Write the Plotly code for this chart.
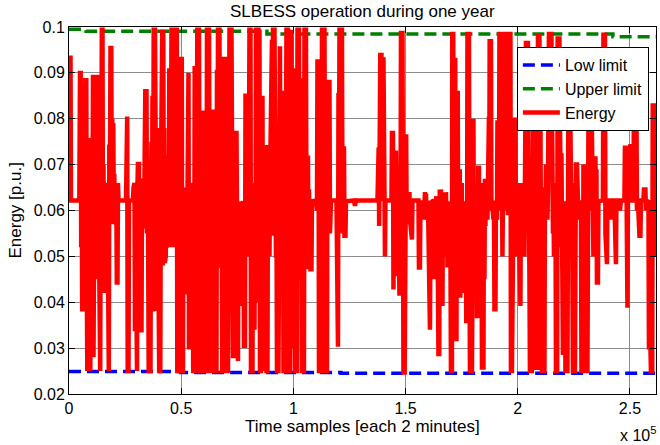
import plotly.graph_objects as go

# ---------------- data ----------------
x_tick_vals = [0, 50000, 100000, 150000, 200000, 250000]
x_tick_text = ["0", "0.5", "1", "1.5", "2", "2.5"]
y_tick_vals = [0.02, 0.03, 0.04, 0.05, 0.06, 0.07, 0.08, 0.09, 0.1]
y_tick_text = ["0.02", "0.03", "0.04", "0.05", "0.06", "0.07", "0.08", "0.09", "0.1"]

low_limit_x = [0, 49900, 121200, 261600]
low_limit = [0.0249, 0.0247, 0.0245, 0.0245]

upper_limit_x = [0, 7600, 88200, 242400, 261600]
upper_limit = [0.0995, 0.0991, 0.0985, 0.0979, 0.0979]

energy_x = [
    0, 668, 891, 4590, 4902, 5214, 5436, 5659, 5882, 6105, 6328, 6550, 6773, 6996, 7263, 7486, 7709, 7932,
    8154, 8377, 8600, 8823, 9046, 9268, 9491, 9714, 10026, 10382, 10694, 10917, 11140, 11363, 11586, 11808,
    12031, 12254, 12477, 12700, 12922, 13145, 13457, 13903, 14126, 14393, 14616, 14928, 15150, 15373, 15596,
    15819, 16042, 16264, 16576, 16844, 17066, 17289, 17735, 17958, 18180, 18492, 18849, 19072, 19294, 19517,
    19740, 19963, 20186, 20408, 20631, 20854, 21077, 21300, 21612, 21834, 22057, 25399, 25622, 25934, 26157,
    26513, 26736, 28518, 28741, 28964, 29187, 29410, 29632, 29855, 30301, 30524, 30746, 30969, 31192, 31415,
    31638, 31860, 32083, 32306, 32529, 32974,
    33197, 33420, 33643, 33999, 34534, 34757, 34980, 35202, 35514, 36316, 36539, 36762, 36985, 37208, 37430,
    37742, 38322, 38544, 38767, 38990, 39213, 39436, 39658, 39881, 40193, 40683, 40906, 41129, 41575, 41797,
    42020, 42243, 42466, 42688, 42911, 43134, 43357, 43580, 43802, 44025, 44248, 44471, 44694, 44916, 45139,
    45362, 45674, 46120, 46342, 46565, 46788, 47011, 47234, 47456, 47768, 48036, 48258, 48793, 49016, 49239,
    49595, 49818, 50264, 50486, 50798, 51021, 51244, 51467, 51690, 51912, 52135, 52358, 52581, 52804, 53249,
    53472, 53695, 53918, 54140, 54363, 54586, 54809, 55032, 55344, 55789, 56012, 56458, 56680, 56903, 57170,
    57928, 58151, 58374, 59265, 59488, 59800, 60156, 60379, 60602, 61270, 61493, 62384, 62607, 62919, 63721,
    63944, 64300,
    64612, 64835, 65058, 65280, 65726, 65949, 66172, 66394, 67063, 67286, 67508, 67731, 67954, 68310, 68845,
    69068, 69959, 70182, 70405, 70850, 71073, 71296, 71519, 72410, 72633, 72856, 73078, 73524, 73747, 74192,
    74638, 74861, 75306, 75529, 75752, 75975, 76198, 76420, 76643, 76866, 77089, 77312, 77534, 77757, 77980,
    78426, 78648, 79317, 79540, 79762, 79985, 80431, 80876, 81099, 81768, 81990, 82213, 82436, 82659, 82882,
    83104, 83327, 84441, 84664, 84887, 85110, 85555, 85778, 86224, 86446, 86892, 87115, 87338, 87560, 87783,
    88006, 88452, 88674, 88897, 89120, 89343, 89566, 90011, 90457, 90680, 90902, 91571, 91794, 92016, 92239,
    92462, 92685, 93353, 93576, 94022, 94244, 94467, 94690, 94913, 95358, 95581, 96250, 96472, 96695, 96918,
    97586,
    97809, 98478, 98700, 99146, 99369, 99592, 99814, 100037, 100260, 100483, 100706, 101597, 101820, 102488,
    102711, 102934, 103156, 103379, 103602, 103825, 104716, 104939, 105607, 105830, 106053, 106276, 106498,
    106721, 106944, 107167, 107390, 107612, 108058, 108281, 110063, 110286, 110509, 110732, 111177, 111400,
    112514, 112737, 113851, 114074, 114296, 114965, 115188, 116079, 116302, 116524, 116747, 119198, 119421,
    119866, 120089, 120312, 120535, 121649, 121872, 122094, 122540, 122763, 123208, 123431, 126996, 127442,
    127887,
    137468, 137690, 138002, 138225, 138448, 138715, 139250, 139473, 139696, 140141, 140364, 140810, 141032,
    143706, 143929, 144374, 144597, 144820, 145043, 145266, 145711, 145934, 146157, 146380, 146602, 146825,
    147271, 147494, 147716, 147939, 148608, 148830, 149053, 149588, 149811, 150256, 150479, 150702, 150925,
    151192, 151504, 151727, 151950, 152395, 152841, 153064, 155737, 155960, 156406, 156628, 157297, 157742,
    158188, 158634, 158856, 159079, 159302, 159748, 159970, 160416, 160862, 161084, 161307, 161753, 161976,
    162644, 163090, 163312, 163535,
    163758, 164204, 164649, 165006, 165228, 165540, 165763, 165986, 166209, 166432, 166654, 166877, 167100,
    167323, 167546, 167768, 167991, 168214, 168437, 168660, 168882, 169105, 169328, 169551, 169774, 169996,
    170219, 170665, 170798, 171244, 171467, 171690, 172135, 172358, 172670, 172893, 173249, 173472, 173695,
    173918, 174140, 174363, 174586, 174809, 175032, 175254, 175477, 175700, 175923, 176146, 176368, 176591,
    176814, 177037, 177349, 177572, 178240, 178463, 178686, 179577, 179800, 180245, 180468, 180691, 180914,
    181136, 181359, 181582, 181805, 182161, 182384, 182696, 182919, 183275, 183587, 183810, 184033, 184701,
    184924, 185147, 185370, 185592, 185815, 186038, 186261, 186484, 186706, 187152, 187286, 187464, 188043,
    188266, 188489, 189157, 189380, 189603, 190048, 190271, 190717, 190940, 191385, 191608, 191831, 192499,
    192722, 193168, 193390, 193613, 194504, 194727, 194950, 195173, 195396, 195618, 195841, 196064, 196287,
    196732, 196955, 197401,
    198069, 198292, 198515, 198960, 199183, 199406, 199629, 199852, 200074, 200297, 200520, 200743, 201188,
    201411, 201634, 201857, 202080, 202302, 202525, 202748, 202971, 203194, 203639, 204530, 204753, 204976,
    205199, 205422, 206313, 206536, 206758, 206981, 207650, 207872, 208095, 208318, 208764, 208986, 209655,
    209878, 210100, 210323, 210546, 210769, 211883, 212106, 212328, 212551, 212774, 212997, 213220, 213442,
    213888, 215002, 215225, 215448, 215670, 215893, 216116, 216339, 216562, 216784, 217007, 217542, 217765,
    218567, 218790, 219012, 219235, 219458, 219681, 219904, 220126, 220795, 221018, 221240, 222132, 222354,
    222577, 223246, 223468, 223691, 223914, 224137, 224582, 225474, 225696, 225919, 226142, 226365, 226588,
    226810, 227033, 227256, 227702, 228147, 228370, 229038, 229261, 229484,
    229707, 230152, 230375, 231044, 231266, 231489, 232158, 232380, 232603, 233049, 233272, 233494, 233717,
    233940, 234163, 234608, 234831, 235054, 235277, 235722, 235945, 237950, 238173, 238842, 239064, 239287,
    239733, 239956, 241070, 241515, 241961, 243075, 243298, 243743, 243966, 245080, 245526, 245971, 247531,
    247754, 248333, 248556, 248868, 249090, 249982, 250204, 250650, 250873, 251541, 251764, 252878, 253101,
    253546, 254215, 254660, 254883, 255997, 256220, 256888, 257111, 257557, 258225, 258448, 259116, 259339,
    259918, 260141, 260676, 260899, 261122, 261344, 261567,
]

energy = [
    0.0933, 0.0933, 0.0622, 0.0622, 0.0900, 0.0900, 0.052, 0.067, 0.038, 0.064, 0.046, 0.066, 0.038, 0.062,
    0.0889, 0.050, 0.0889, 0.045, 0.025, 0.066, 0.025, 0.0758, 0.040, 0.066, 0.025, 0.060, 0.066, 0.050,
    0.0896, 0.028, 0.0896, 0.055, 0.0896, 0.045, 0.066, 0.0896, 0.050, 0.0896, 0.045, 0.065, 0.025, 0.025,
    0.064, 0.055, 0.0994, 0.0994, 0.050, 0.070, 0.042, 0.066, 0.042, 0.062, 0.065, 0.048, 0.066, 0.025,
    0.025, 0.0744, 0.060, 0.0954, 0.0954, 0.058, 0.080, 0.057, 0.079, 0.060, 0.068, 0.058, 0.066, 0.057,
    0.066, 0.0443, 0.0443, 0.066, 0.0622, 0.0622, 0.0805, 0.0805, 0.025, 0.025, 0.0622, 0.0622, 0.065,
    0.034, 0.066, 0.0337, 0.065, 0.025, 0.025, 0.066, 0.0706, 0.034, 0.0706, 0.0337, 0.067, 0.034, 0.067,
    0.0334, 0.062, 0.0622,
    0.065, 0.056, 0.066, 0.086, 0.086, 0.055, 0.085, 0.060, 0.025, 0.025, 0.066, 0.075, 0.055, 0.085,
    0.038, 0.0994, 0.0994, 0.060, 0.0994, 0.045, 0.078, 0.0381, 0.070, 0.045, 0.025, 0.025, 0.065, 0.0994,
    0.0994, 0.048, 0.0994, 0.055, 0.078, 0.0486, 0.070, 0.050, 0.072, 0.052, 0.072, 0.053, 0.070, 0.052,
    0.091, 0.055, 0.091, 0.060, 0.0994, 0.0994, 0.052, 0.0994, 0.060, 0.085, 0.052, 0.070, 0.0994, 0.0994,
    0.025, 0.025, 0.060, 0.025, 0.025, 0.093, 0.093, 0.025, 0.025, 0.065, 0.0417, 0.064, 0.045, 0.065,
    0.0417, 0.063, 0.050, 0.090, 0.090, 0.0297, 0.065, 0.030, 0.062, 0.0297, 0.066, 0.035, 0.065, 0.025,
    0.025, 0.091, 0.091, 0.025, 0.060, 0.0994, 0.0994, 0.060, 0.025, 0.025, 0.065, 0.0813, 0.0813, 0.060,
    0.025, 0.025, 0.0994, 0.0994, 0.062, 0.025, 0.025, 0.066, 0.082,
    0.060, 0.082, 0.060, 0.025, 0.025, 0.0907, 0.055, 0.0994, 0.0994, 0.0475, 0.066, 0.050, 0.066, 0.025,
    0.025, 0.093, 0.093, 0.050, 0.025, 0.025, 0.066, 0.0588, 0.0994, 0.0994, 0.0588, 0.066, 0.0283, 0.0283,
    0.062, 0.0769, 0.0769, 0.0272, 0.0272, 0.0613, 0.045, 0.0613, 0.040, 0.0613, 0.0392, 0.062, 0.042,
    0.061, 0.040, 0.062, 0.0305, 0.0305, 0.085, 0.085, 0.055, 0.070, 0.050, 0.0994, 0.0994, 0.025, 0.025,
    0.066, 0.034, 0.066, 0.034, 0.064, 0.040, 0.0994, 0.0994, 0.060, 0.0994, 0.025, 0.025, 0.0845, 0.0845,
    0.025, 0.060, 0.025, 0.0743, 0.050, 0.0743, 0.025, 0.025, 0.0715, 0.055, 0.0715, 0.050, 0.066, 0.0972,
    0.0972, 0.0545, 0.0994, 0.0994, 0.0497, 0.066, 0.0497, 0.060, 0.025, 0.025, 0.0958, 0.0958, 0.0515,
    0.065, 0.0515, 0.0856, 0.0856, 0.025, 0.025, 0.070, 0.034, 0.0994, 0.0994,
    0.025, 0.025, 0.0994, 0.0994, 0.030, 0.091, 0.040, 0.091, 0.050, 0.070, 0.025, 0.025, 0.0994, 0.0994,
    0.060, 0.0888, 0.045, 0.0888, 0.060, 0.025, 0.025, 0.0994, 0.0994, 0.055, 0.0718, 0.048, 0.072,
    0.0472, 0.0646, 0.058, 0.0646, 0.0472, 0.0472, 0.062, 0.0622, 0.0827, 0.060, 0.0925, 0.0925, 0.025,
    0.025, 0.0994, 0.0994, 0.060, 0.025, 0.025, 0.088, 0.088, 0.055, 0.0697, 0.0622, 0.0622, 0.0303,
    0.0303, 0.0856, 0.060, 0.0994, 0.0994, 0.055, 0.074, 0.074, 0.0545, 0.0545, 0.062, 0.0622, 0.0610,
    0.0622,
    0.0622, 0.0737, 0.0737, 0.0566, 0.066, 0.0939, 0.0939, 0.062, 0.0929, 0.0929, 0.050, 0.050, 0.0622,
    0.0622, 0.0769, 0.0769, 0.0428, 0.066, 0.0428, 0.0726, 0.0726, 0.050, 0.066, 0.0457, 0.064, 0.0414,
    0.0414, 0.064, 0.050, 0.0987, 0.0987, 0.060, 0.0247, 0.0247, 0.0766, 0.0766, 0.057, 0.064, 0.057,
    0.064, 0.060, 0.064, 0.058, 0.0537, 0.0537, 0.0622, 0.0622, 0.0476, 0.0476, 0.0622, 0.058, 0.0622,
    0.058, 0.064, 0.058, 0.0637, 0.060, 0.058, 0.0622, 0.034, 0.034, 0.058, 0.062, 0.045, 0.062,
    0.0622, 0.045, 0.062, 0.0622,
    0.0631, 0.058, 0.0287, 0.0287, 0.0646, 0.0392, 0.0646, 0.045, 0.0646, 0.0392, 0.062, 0.050, 0.064,
    0.052, 0.063, 0.050, 0.064, 0.055, 0.062, 0.0476, 0.062, 0.0476, 0.060, 0.052, 0.062, 0.050,
    0.025, 0.025, 0.0985, 0.0985, 0.055, 0.0933, 0.0933, 0.032, 0.032, 0.0856, 0.0856, 0.041, 0.069,
    0.045, 0.069, 0.041, 0.062, 0.045, 0.066, 0.042, 0.062, 0.050, 0.062, 0.0435, 0.060, 0.050,
    0.062, 0.0359, 0.0359, 0.0985, 0.0985, 0.050, 0.025, 0.025, 0.080, 0.080, 0.045, 0.066, 0.050,
    0.064, 0.045, 0.064, 0.037, 0.037, 0.0693, 0.0693, 0.037, 0.064, 0.045, 0.066, 0.0258, 0.0258,
    0.066, 0.045, 0.0669, 0.0566, 0.0669, 0.0566, 0.065, 0.058, 0.0805, 0.0805, 0.060, 0.0969, 0.0969,
    0.060, 0.0622, 0.058, 0.0622, 0.0385, 0.0385, 0.062, 0.058, 0.0792, 0.0792, 0.060, 0.0985, 0.0985,
    0.050, 0.050, 0.062, 0.0985, 0.0985, 0.060, 0.068, 0.060, 0.068, 0.059, 0.068, 0.060, 0.0985,
    0.0985, 0.025, 0.025,
    0.062, 0.050, 0.0798, 0.0798, 0.055, 0.066, 0.052, 0.066, 0.050, 0.064, 0.055, 0.0392, 0.0392,
    0.066, 0.055, 0.0646, 0.052, 0.0646, 0.055, 0.062, 0.050, 0.066, 0.0965, 0.0965, 0.055, 0.080,
    0.045, 0.025, 0.025, 0.066, 0.052, 0.092, 0.092, 0.055, 0.066, 0.0257, 0.0257, 0.098, 0.098,
    0.060, 0.080, 0.052, 0.065, 0.025, 0.025, 0.065, 0.058, 0.070, 0.060, 0.069, 0.058, 0.064,
    0.0985, 0.0985, 0.060, 0.066, 0.055, 0.066, 0.050, 0.064, 0.052, 0.065, 0.025, 0.025, 0.0975,
    0.0975, 0.055, 0.0725, 0.052, 0.0725, 0.050, 0.066, 0.029, 0.029, 0.062, 0.025, 0.025, 0.066,
    0.090, 0.090, 0.060, 0.065, 0.055, 0.066, 0.025, 0.025, 0.065, 0.0705, 0.058, 0.0705, 0.060,
    0.066, 0.058, 0.0622, 0.058, 0.0622, 0.025, 0.025, 0.070, 0.060,
    0.069, 0.060, 0.025, 0.025, 0.062, 0.0784, 0.0784, 0.060, 0.077, 0.077, 0.058, 0.065, 0.050,
    0.066, 0.0718, 0.0718, 0.058, 0.069, 0.0443, 0.0443, 0.062, 0.0622, 0.0983, 0.0983, 0.055, 0.0483,
    0.0483, 0.0622, 0.0622, 0.058, 0.0622, 0.0622, 0.0483, 0.0483, 0.0622, 0.0622, 0.060, 0.0622, 0.0622,
    0.0737, 0.0737, 0.0388, 0.0388, 0.0622, 0.0622, 0.074, 0.074, 0.0622, 0.0622, 0.083, 0.083, 0.060,
    0.0622, 0.0545, 0.0545, 0.0622, 0.0622, 0.0646, 0.0646, 0.060, 0.062, 0.0622, 0.0302, 0.0302, 0.025,
    0.025, 0.0829, 0.0829, 0.0675, 0.050, 0.0675, 0.062,
]

x_max = 261600

# ---------------- figure ----------------
FONT = "Liberation Sans, Arial, Helvetica, sans-serif"

fig = go.Figure()
fig.add_trace(go.Scatter(
    x=low_limit_x, y=low_limit, mode="lines", name="Low limit", line_shape="hv",
    line=dict(color="#0000FF", width=3.5, dash="12px,6px"),
))
fig.add_trace(go.Scatter(
    x=upper_limit_x, y=upper_limit, mode="lines", name="Upper limit", line_shape="hv",
    line=dict(color="#008000", width=3.5, dash="12px,6px"),
))
fig.add_trace(go.Scatter(
    x=energy_x, y=energy, mode="lines", name="Energy",
    line=dict(color="#FF0000", width=4.5),
))

axis_common = dict(
    showline=True, linecolor="black", linewidth=1, mirror="ticks",
    ticks="inside", ticklen=6, tickcolor="black",
    showgrid=True, gridcolor="#8c8c8c", gridwidth=1, zeroline=False,
    tickfont=dict(family=FONT, size=16, color="black"),
)

fig.update_layout(
    width=660, height=445,
    margin=dict(l=69, r=4, t=27, b=51),
    paper_bgcolor="white", plot_bgcolor="white",
    font=dict(family=FONT, size=16, color="black"),
    xaxis=dict(range=[0, x_max], tickvals=x_tick_vals, ticktext=x_tick_text, **axis_common),
    yaxis=dict(range=[0.02, 0.1], tickvals=y_tick_vals, ticktext=y_tick_text, **axis_common),
    legend=dict(
        x=0.763, y=0.9455, xanchor="left", yanchor="top",
        bgcolor="white", bordercolor="black", borderwidth=1,
        font=dict(family=FONT, size=16, color="black"),
        tracegroupgap=0, itemwidth=37,
    ),
    annotations=[
        dict(text="SLBESS operation during one year", x=0.5, y=1.043, xref="paper", yref="paper",
             showarrow=False, xanchor="center", yanchor="middle", font=dict(size=17)),
        dict(text="Time samples [each 2 minutes]", x=0.5, y=-0.0899, xref="paper", yref="paper",
             showarrow=False, xanchor="center", yanchor="middle", font=dict(size=17)),
        dict(text="Energy [p.u.]", x=-0.0903, y=0.5, xref="paper", yref="paper", textangle=-90,
             showarrow=False, xanchor="center", yanchor="middle", font=dict(size=17)),
        dict(text="x 10<sup>5</sup>", x=1.004, y=-0.108, xref="paper", yref="paper",
             showarrow=False, xanchor="right", yanchor="middle", font=dict(size=16)),
    ],
)

# remove the browser's default 8px body margin so the figure sits at the window's corner
fig.write_html(
    "out.html",
    config={"displayModeBar": False},
    post_script="document.body.style.margin='0px';",
)
